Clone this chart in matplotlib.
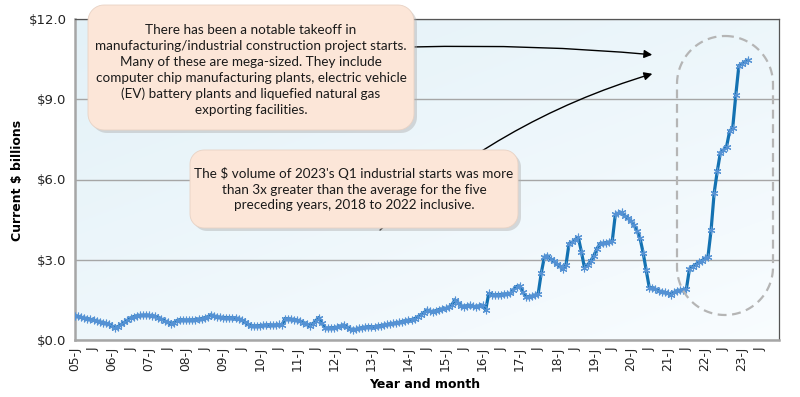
import matplotlib
matplotlib.use("Agg")
import matplotlib.pyplot as plt
import numpy as np
from matplotlib.patches import Polygon


W, H = 800, 397

# monthly values, Jan 2005 onward, current $ billions
Y2005 = [0.90, 0.88, 0.85, 0.82, 0.80, 0.77, 0.74, 0.72, 0.68, 0.65, 0.62, 0.58]
Y2006 = [0.52, 0.46, 0.50, 0.58, 0.66, 0.74, 0.82, 0.87, 0.90, 0.92, 0.92, 0.93]
Y2007 = [0.92, 0.91, 0.88, 0.84, 0.78, 0.72, 0.66, 0.60, 0.64, 0.72, 0.76, 0.75]
Y2008 = [0.74, 0.75, 0.75, 0.76, 0.78, 0.80, 0.83, 0.86, 0.94, 0.90, 0.86, 0.85]
Y2009 = [0.84, 0.84, 0.83, 0.83, 0.82, 0.80, 0.74, 0.66, 0.58, 0.54, 0.52, 0.53]
Y2010 = [0.54, 0.55, 0.56, 0.57, 0.55, 0.56, 0.58, 0.55, 0.80, 0.79, 0.78, 0.76]
Y2011 = [0.74, 0.70, 0.65, 0.58, 0.52, 0.60, 0.72, 0.84, 0.62, 0.45, 0.44, 0.46]
Y2012 = [0.46, 0.48, 0.52, 0.56, 0.50, 0.42, 0.38, 0.40, 0.44, 0.46, 0.48, 0.50]
Y2013 = [0.50, 0.50, 0.52, 0.54, 0.56, 0.58, 0.60, 0.62, 0.64, 0.66, 0.69, 0.72]
Y2014 = [0.74, 0.76, 0.80, 0.86, 0.94, 1.02, 1.12, 1.08, 1.05, 1.10, 1.14, 1.16]
Y2015 = [1.18, 1.22, 1.30, 1.50, 1.40, 1.28, 1.25, 1.28, 1.30, 1.26, 1.24, 1.28]
Y2016 = [1.30, 1.12, 1.74, 1.70, 1.68, 1.70, 1.70, 1.72, 1.72, 1.74, 1.88, 2.00]
Y2017 = [2.02, 1.80, 1.62, 1.62, 1.64, 1.68, 1.72, 2.50, 3.10, 3.15, 3.02, 2.95]
Y2018 = [2.85, 2.75, 2.66, 2.80, 3.60, 3.65, 3.75, 3.84, 3.30, 2.70, 2.80, 2.95]
Y2019 = [3.15, 3.40, 3.60, 3.62, 3.64, 3.66, 3.70, 4.70, 4.74, 4.77, 4.65, 4.55]
Y2020 = [4.46, 4.30, 4.09, 3.80, 3.26, 2.60, 1.95, 1.96, 1.90, 1.84, 1.80, 1.78]
Y2021 = [1.74, 1.70, 1.78, 1.84, 1.86, 1.88, 1.90, 2.66, 2.74, 2.82, 2.90, 2.96]
Y2022 = [3.05, 3.12, 4.10, 5.50, 6.30, 7.00, 7.10, 7.22, 7.80, 7.92, 9.15, 10.25]
Y2023 = [10.32, 10.40, 10.46]

VALUES = (Y2005 + Y2006 + Y2007 + Y2008 + Y2009 + Y2010 + Y2011 + Y2012 + Y2013
          + Y2014 + Y2015 + Y2016 + Y2017 + Y2018 + Y2019 + Y2020 + Y2021 + Y2022 + Y2023)

YEARS = list(range(2005, 2024))
Y_TICKS = [0, 3, 6, 9, 12]

NOTE_TOP = ("There has been a notable takeoff in\n"
            "manufacturing/industrial construction project starts.\n"
            "Many of these are mega-sized. They include\n"
            "computer chip manufacturing plants, electric vehicle\n"
            "(EV) battery plants and liquefied natural gas\n"
            "exporting facilities.")
NOTE_MID = ("The $ volume of 2023's Q1 industrial starts was more\n"
            "than 3x greater than the average for the five\n"
            "preceding years, 2018 to 2022 inclusive.")

LINE_COLOR = "#1472b2"
MARKER_COLOR = "#5592d4"
BOX_FILL = "#fce6d8"


def px(x, y):
    # image pixel (top-left origin) -> figure fraction
    return x / W, 1 - y / H


def rounded_rect(x0, y0, x1, y1, r, n=12):
    pts = []
    corners = [(x1 - r, y0 + r, -90), (x1 - r, y1 - r, 0), (x0 + r, y1 - r, 90), (x0 + r, y0 + r, 180)]
    for cx, cy, start in corners:
        for a in np.linspace(start, start + 90, n):
            t = np.radians(a)
            pts.append(px(cx + r * np.cos(t), cy + r * np.sin(t)))
    return pts


def add_box(fig, x0, y0, x1, y1, r, text, tx, ty):
    shadow = Polygon(rounded_rect(x0 + 3, y0 + 3, x1 + 3, y1 + 3, r), closed=True,
                     transform=fig.transFigure, facecolor="#b0b0b0", alpha=0.45,
                     edgecolor="none", zorder=5)
    box = Polygon(rounded_rect(x0, y0, x1, y1, r), closed=True, transform=fig.transFigure,
                  facecolor=BOX_FILL, edgecolor="#e8d2c4", linewidth=0.6, zorder=6)
    fig.patches.extend([shadow, box])
    fig.text(*px(tx, ty), text, ha="center", va="center", fontsize=9.7, family="Lato",
             linespacing=1.38, color="#1a1a1a", zorder=7)


def main():
    fig = plt.figure(figsize=(W / 100, H / 100), dpi=100)
    ax = fig.add_axes([75 / W, 1 - 340 / H, (779 - 75) / W, (340 - 19) / H])

    # light blue gradient in plot area
    gx, gy = np.meshgrid(np.linspace(0, 1, 200), np.linspace(0, 1, 200))
    shade = 0.55 * gy + 0.45 * (1 - gx)
    top = np.array([0.89, 0.945, 0.97])
    bottom = np.array([0.975, 0.99, 1.0])
    grad = bottom + (top - bottom) * shade[..., None]
    ax.imshow(grad, extent=[0, 1, 0, 1], transform=ax.transAxes, origin="lower",
              aspect="auto", zorder=0)

    months = np.arange(len(VALUES))
    ax.plot(months, VALUES, color=LINE_COLOR, linewidth=2.3, zorder=3)
    ax.plot(months, VALUES, linestyle="none", marker=(6, 2, 0), markersize=5.5,
            markeredgecolor=MARKER_COLOR, markeredgewidth=0.8, zorder=4)

    ax.set_xlim(0, 228)
    ax.set_ylim(0, 12)
    ax.set_yticks(Y_TICKS)
    ax.set_yticklabels([f"${v:.1f}" for v in Y_TICKS], fontsize=9.5, color="#222222")
    ax.grid(axis="y", color="#a6a6a6", linewidth=1.0, zorder=1)
    ax.set_axisbelow(True)

    tick_pos = []
    tick_lab = []
    for i, year in enumerate(YEARS):
        tick_pos += [i * 12, i * 12 + 6]
        tick_lab += [f"{year % 100:02d}-J", "J"]
    ax.set_xticks(tick_pos)
    ax.set_xticklabels(tick_lab, rotation=90, fontsize=8.8, color="#222222")
    ax.tick_params(axis="both", length=0, pad=6)
    ax.tick_params(axis="x", pad=5)

    for side in ["left", "bottom"]:
        ax.spines[side].set_color("#a6a6a6")
        ax.spines[side].set_linewidth(1.8)
    for side in ["top", "right"]:
        ax.spines[side].set_color("#555555")
        ax.spines[side].set_linewidth(0.9)

    fig.text(*px(425, 384), "Year and month", ha="center", va="center",
             fontsize=9, fontweight="bold")
    fig.text(*px(18, 180), "Current $ billions", ha="center", va="center",
             rotation=90, fontsize=9, fontweight="bold")

    # dashed highlight around the 2022-23 surge
    stadium = Polygon(rounded_rect(677, 36, 773, 315, 48, n=30), closed=True,
                      transform=fig.transFigure, facecolor="none", edgecolor="#b5b5b5",
                      linewidth=1.6, linestyle=(0, (4, 2.5)), zorder=4)
    fig.patches.append(stadium)

    # arrows pointing at the surge
    ax.annotate("", xy=px(655, 55), xycoords="figure fraction",
                xytext=px(412, 47), textcoords="figure fraction",
                arrowprops=dict(arrowstyle="-|>", color="black", lw=1.0,
                                connectionstyle="arc3,rad=-0.03", mutation_scale=12),
                zorder=5)
    ax.annotate("", xy=px(655, 73), xycoords="figure fraction",
                xytext=px(378, 232), textcoords="figure fraction",
                arrowprops=dict(arrowstyle="-|>", color="black", lw=1.0,
                                connectionstyle="arc3,rad=-0.12", mutation_scale=12),
                zorder=5)

    add_box(fig, 88, 5, 414, 130, 16, NOTE_TOP, 251, 70)
    add_box(fig, 190, 150, 518, 228, 14, NOTE_MID, 354, 189)

    fig.savefig("out.png", dpi=100)
    plt.close(fig)


if __name__ == "__main__":
    main()
